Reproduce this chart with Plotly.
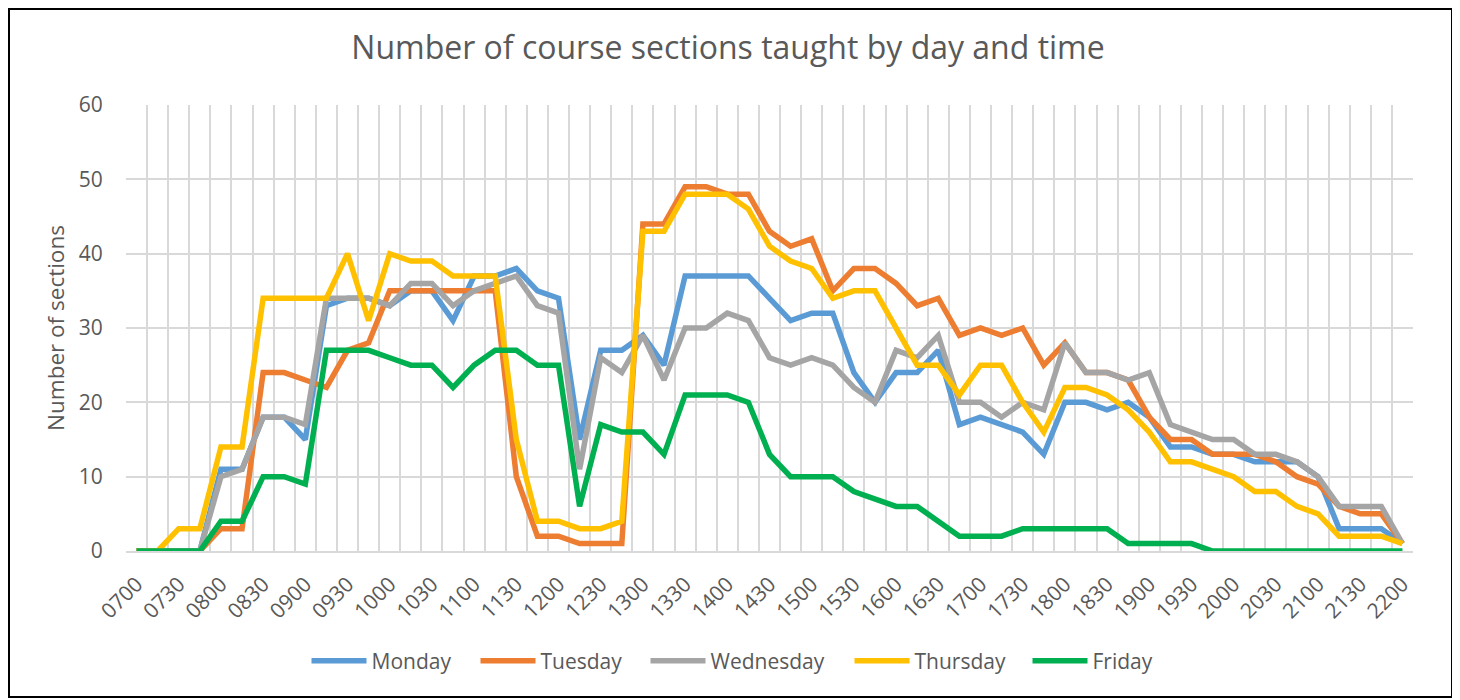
import plotly.graph_objects as go

times = ["0700", "0715", "0730", "0745", "0800", "0815", "0830", "0845", "0900", "0915",
         "0930", "0945", "1000", "1015", "1030", "1045", "1100", "1115", "1130", "1145",
         "1200", "1215", "1230", "1245", "1300", "1315", "1330", "1345", "1400", "1415",
         "1430", "1445", "1500", "1515", "1530", "1545", "1600", "1615", "1630", "1645",
         "1700", "1715", "1730", "1745", "1800", "1815", "1830", "1845", "1900", "1915",
         "1930", "1945", "2000", "2015", "2030", "2045", "2100", "2115", "2130", "2145",
         "2200"]

monday = [0, 0, 0, 0, 11, 11, 18, 18, 15, 33, 34, 34, 33, 35, 35, 31, 37, 37, 38, 35,
          34, 15, 27, 27, 29, 25, 37, 37, 37, 37, 34, 31, 32, 32, 24, 20, 24, 24, 27, 17,
          18, 17, 16, 13, 20, 20, 19, 20, 18, 14, 14, 13, 13, 12, 12, 12, 10, 3, 3, 3, 1]
tuesday = [0, 0, 0, 0, 3, 3, 24, 24, 23, 22, 27, 28, 35, 35, 35, 35, 35, 35, 10, 2,
           2, 1, 1, 1, 44, 44, 49, 49, 48, 48, 43, 41, 42, 35, 38, 38, 36, 33, 34, 29,
           30, 29, 30, 25, 28, 24, 24, 23, 18, 15, 15, 13, 13, 13, 12, 10, 9, 6, 5, 5, 1]
wednesday = [0, 0, 0, 0, 10, 11, 18, 18, 17, 34, 34, 34, 33, 36, 36, 33, 35, 36, 37, 33,
             32, 11, 26, 24, 29, 23, 30, 30, 32, 31, 26, 25, 26, 25, 22, 20, 27, 26, 29, 20,
             20, 18, 20, 19, 28, 24, 24, 23, 24, 17, 16, 15, 15, 13, 13, 12, 10, 6, 6, 6, 1]
thursday = [0, 0, 3, 3, 14, 14, 34, 34, 34, 34, 40, 31, 40, 39, 39, 37, 37, 37, 15, 4,
            4, 3, 3, 4, 43, 43, 48, 48, 48, 46, 41, 39, 38, 34, 35, 35, 30, 25, 25, 21,
            25, 25, 20, 16, 22, 22, 21, 19, 16, 12, 12, 11, 10, 8, 8, 6, 5, 2, 2, 2, 1]
friday = [0, 0, 0, 0, 4, 4, 10, 10, 9, 27, 27, 27, 26, 25, 25, 22, 25, 27, 27, 25,
          25, 6, 17, 16, 16, 13, 21, 21, 21, 20, 13, 10, 10, 10, 8, 7, 6, 6, 4, 2,
          2, 2, 3, 3, 3, 3, 3, 1, 1, 1, 1, 0, 0, 0, 0, 0, 0, 0, 0, 0, 0]

series = [("Monday", monday, "#5B9BD5", 99),
          ("Tuesday", tuesday, "#ED7D31", 100),
          ("Wednesday", wednesday, "#A5A5A5", 134),
          ("Thursday", thursday, "#FFC000", 108),
          ("Friday", friday, "#00B050", 60)]

FONT = "Open Sans"
TXT = "#595959"
GRID = "#D9D9D9"

idx = list(range(len(times)))

fig = go.Figure()
for name, vals, color, lw in series:
    fig.add_trace(go.Scatter(x=idx, y=vals, name=name, mode="lines",
                             line=dict(color=color, width=5.5, shape="linear"),
                             legendwidth=lw, hoverinfo="skip"))

# page is rendered with an 8px body margin; compensate in figure coordinates
OFF = 8
W, H = 1460, 700
L, T = 126 - OFF, 105 - OFF
R = W - (1413 - OFF)
B = H - (551 - OFF)
pw = W - L - R
ph = H - T - B

fig.update_layout(
    width=W, height=H,
    margin=dict(l=L, r=R, t=T, b=B),
    paper_bgcolor="white", plot_bgcolor="white",
    font=dict(family=FONT, color=TXT, size=21),
    title=dict(text="Number of course sections taught by day and time",
               font=dict(family=FONT, size=32, color=TXT),
               x=(728 - OFF) / W, xref="container", xanchor="center",
               y=1 - (48 - OFF) / H, yref="container", yanchor="middle"),
    showlegend=True,
    legend=dict(orientation="h", x=(732 - OFF) / W, xanchor="center", xref="container",
                y=1 - (661 - OFF) / H, yanchor="middle", yref="container",
                font=dict(family=FONT, size=21, color=TXT),
                itemwidth=55, bgcolor="rgba(0,0,0,0)"),
    xaxis=dict(range=[-0.5, len(times) - 0.5], tickmode="array",
               tickvals=idx[::2], ticktext=times[::2], tickangle=-45,
               showgrid=False, zeroline=False,
               showline=True, linecolor=GRID, linewidth=1.5,
               ticks="outside", ticklen=11, tickcolor="rgba(0,0,0,0)",
               tickfont=dict(family=FONT, size=21, color=TXT),
               minor=dict(tickmode="linear", tick0=-0.5, dtick=1, showgrid=True,
                          gridcolor=GRID, gridwidth=1.5, ticks="")),
    yaxis=dict(range=[0, 60], dtick=10, showgrid=True, gridcolor=GRID, gridwidth=1.5,
               zeroline=False, showline=False,
               ticks="outside", ticklen=18, tickcolor="rgba(0,0,0,0)",
               tickfont=dict(family=FONT, size=21, color=TXT),
               title=dict(text="Number of sections", standoff=7,
                          font=dict(family=FONT, size=22.5, color=TXT))),
)

fig.add_shape(type="rect", xref="paper", yref="paper",
              x0=(1 - L) / pw, x1=(1452 - OFF - L) / pw,
              y0=(T + ph - (697 - OFF)) / ph, y1=(T + ph - 1) / ph,
              line=dict(color="black", width=2), fillcolor="rgba(0,0,0,0)", layer="above")

fig.write_html("out.html")
